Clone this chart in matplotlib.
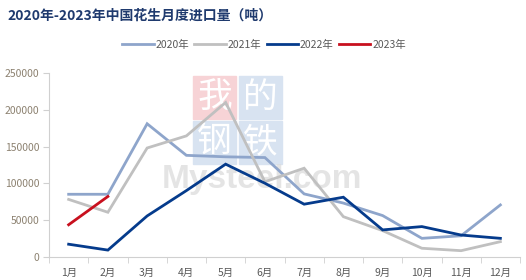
import matplotlib.pyplot as plt
from matplotlib.patches import Rectangle

plt.rcParams['font.family'] = ['Noto Sans CJK SC', 'DejaVu Sans']

months = ["1月", "2月", "3月", "4月", "5月", "6月", "7月", "8月", "9月", "10月", "11月", "12月"]
y2020 = [85000, 85000, 181000, 138000, 136000, 135000, 85500, 73000, 56000, 25000, 28500, 70500]
y2021 = [78000, 60500, 148000, 164500, 210000, 102000, 120500, 54500, 35500, 11500, 8200, 20500]
y2022 = [17000, 9000, 55500, 90000, 126000, 100000, 71500, 81000, 36500, 41000, 29500, 25000]
y2023 = [43500, 82000]
yticks = [0, 50000, 100000, 150000, 200000, 250000]

series = [
    ("2020年", y2020, "#8EA5CB"),
    ("2021年", y2021, "#C0C0C0"),
    ("2022年", y2022, "#053B8C"),
    ("2023年", y2023, "#C8101E"),
]

fig = plt.figure(figsize=(5.26, 2.8), dpi=100)
ax = fig.add_axes([0.0932, 0.0832, 0.8954, 0.6558])
ax.set_zorder(2)

# watermark (sits under the lines)
tiles = [
    (193, 76, "#F7D3D6", "我"),
    (239, 76, "#D8E3F1", "的"),
    (193, 121, "#D8E3F1", "钢"),
    (239, 121, "#D8E3F1", "铁"),
]
for px, py, col, ch in tiles:
    fig.patches.append(Rectangle((px / 526, 1 - (py + 43) / 280), 43 / 526, 43 / 280,
                                 transform=fig.transFigure, color=col, zorder=0))
    fig.text((px + 21.5) / 526, 1 - (py + 21.5) / 280, ch, color="white", fontsize=25,
             ha="center", va="center", zorder=0.5)
fig.text(262 / 526, 1 - 188 / 280, "Mysteel.com", color="#DCDCDC", fontsize=24,
         fontweight="bold", ha="center", va="baseline", family="Liberation Sans",
         alpha=0.75, zorder=0.6)

x = list(range(len(months)))
for name, vals, col in series:
    ax.plot(x[:len(vals)], vals, color=col, lw=2.0, label=name, solid_joinstyle="miter")

ax.set_xlim(-0.5, 11.5)
ax.set_ylim(0, 250000)
ax.set_yticks(yticks)
ax.set_yticklabels([str(v) for v in yticks])
ax.set_xticks(x)
ax.set_xticklabels(months)
ax.set_xticks([i - 0.5 for i in range(13)], minor=True)
ax.tick_params(axis="x", which="major", length=0, pad=8, labelsize=7.5, labelcolor="#595959")
ax.tick_params(axis="x", which="minor", length=4, color="#D0D0D0")
ax.tick_params(axis="y", length=4, color="#D0D0D0", labelsize=7.5, labelcolor="#8C8170", pad=3)
ax.patch.set_alpha(0)
for s in ["top", "right"]:
    ax.spines[s].set_visible(False)
for s in ["left", "bottom"]:
    ax.spines[s].set_color("#D0D0D0")

fig.text(0.015, 0.946, "2020年-2023年中国花生月度进口量（吨）", fontsize=10, fontweight="bold",
         color="#1F3A6E", ha="left", va="center")
fig.legend(loc="center", bbox_to_anchor=(0.502, 0.84), ncol=4, frameon=False, fontsize=7.5,
           handlelength=3.0, handletextpad=0.2, columnspacing=0.5, labelcolor="#595959")

fig.savefig("out.png", dpi=100)
